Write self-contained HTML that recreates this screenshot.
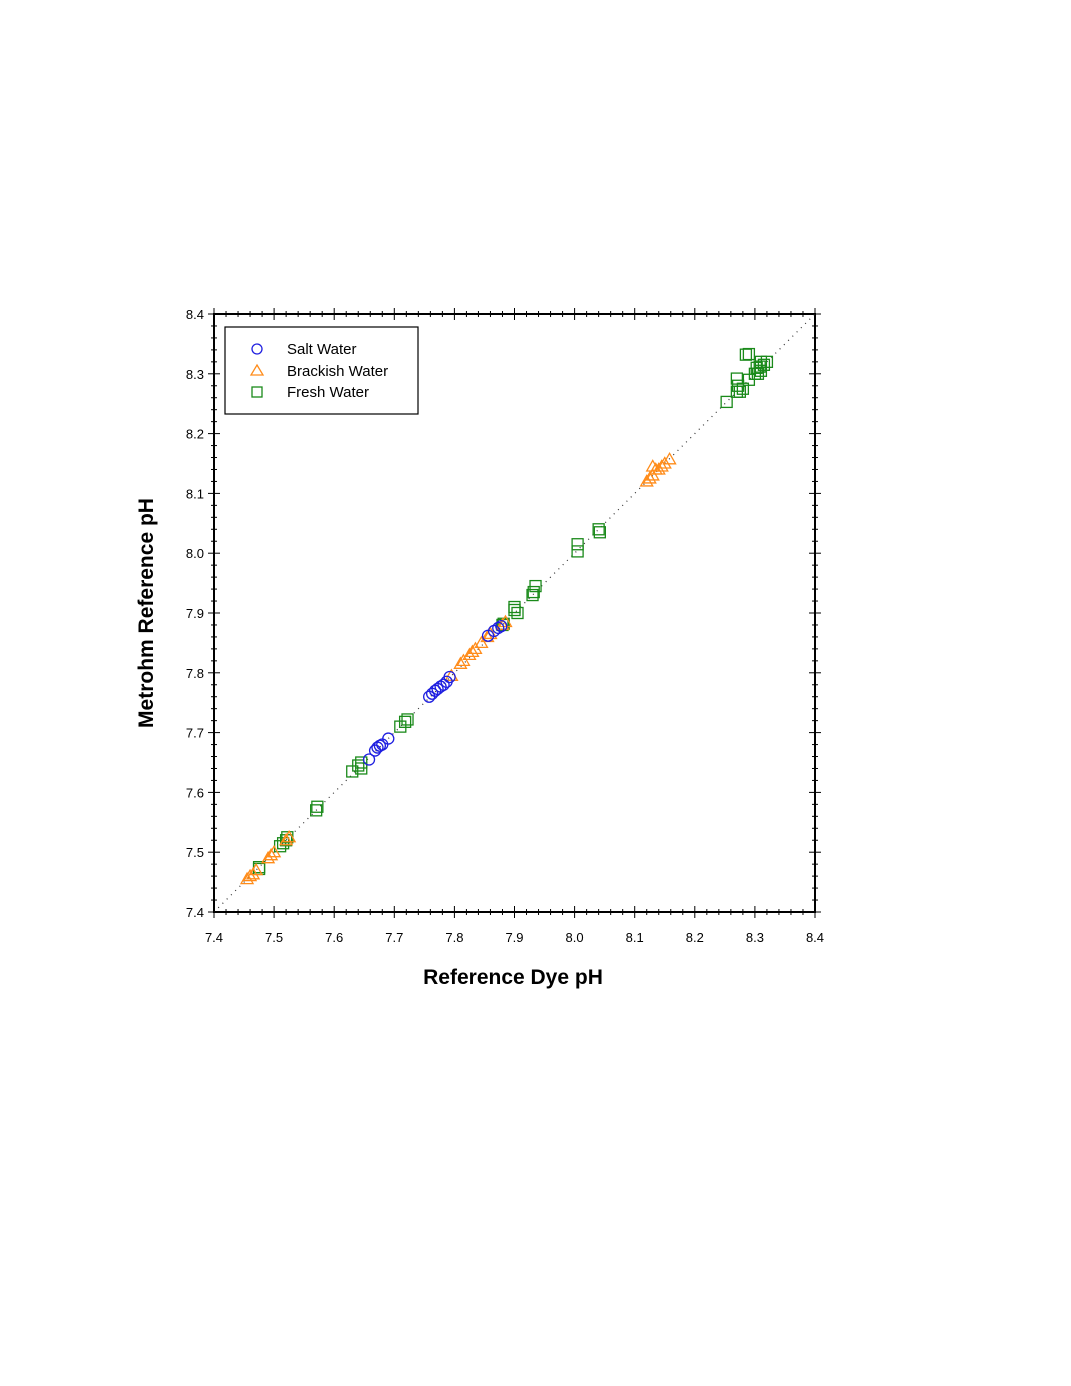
<!DOCTYPE html>
<html><head><meta charset="utf-8"><style>body{margin:0;background:#fff}svg{display:block;font-family:"Liberation Sans",sans-serif}</style></head>
<body>
<svg id="chart" width="1071" height="1386" viewBox="0 0 1071 1386" xmlns="http://www.w3.org/2000/svg">
<g id="axes"></g><g id="marks"></g>
<g>
<rect x="225" y="327" width="193" height="87" fill="#fff" stroke="#000" stroke-width="1.2"/>
<circle cx="257" cy="349" r="5" fill="none" stroke="#1f1fe0" stroke-width="1.3"/>
<text x="287" y="354" font-size="15">Salt Water</text>
<polygon points="257,365 263,375 251,375" fill="none" stroke="#ff8c1a" stroke-width="1.3"/>
<text x="287" y="376" font-size="15">Brackish Water</text>
<rect x="252" y="387" width="10" height="10" fill="none" stroke="#1a8a1a" stroke-width="1.3"/>
<text x="287" y="397" font-size="15">Fresh Water</text>
</g>
<text x="513" y="984" font-size="21" font-weight="bold" text-anchor="middle">Reference Dye pH</text>
<text transform="translate(153,613) rotate(-90)" font-size="21" font-weight="bold" text-anchor="middle">Metrohm Reference pH</text>
</svg>
<script>
const ticks=[7.4,7.5,7.6,7.7,7.8,7.9,8.0,8.1,8.2,8.3,8.4];
const tickLabels=["7.4","7.5","7.6","7.7","7.8","7.9","8.0","8.1","8.2","8.3","8.4"];
const saltX=[7.658,7.668,7.672,7.676,7.68,7.69,7.758,7.763,7.768,7.772,7.777,7.782,7.787,7.792,7.856,7.866,7.873,7.878];
const saltY=[7.655,7.67,7.675,7.678,7.68,7.69,7.76,7.765,7.77,7.773,7.777,7.78,7.785,7.793,7.862,7.87,7.875,7.878];
const brackX=[7.455,7.46,7.465,7.47,7.49,7.495,7.5,7.52,7.525,7.795,7.81,7.815,7.825,7.83,7.835,7.845,7.855,7.86,7.88,7.885,8.12,8.125,8.13,8.135,8.13,8.14,8.145,8.15,8.158];
const brackY=[7.455,7.46,7.463,7.47,7.49,7.495,7.5,7.52,7.525,7.795,7.815,7.82,7.83,7.835,7.84,7.85,7.86,7.865,7.88,7.885,8.12,8.125,8.13,8.14,8.145,8.14,8.145,8.15,8.157];
const freshX=[7.475,7.475,7.51,7.515,7.52,7.522,7.57,7.572,7.63,7.64,7.645,7.645,7.71,7.718,7.722,7.88,7.882,7.9,7.905,7.9,7.93,7.932,7.935,8.005,8.005,8.04,8.042,8.253,8.27,8.275,8.272,8.27,8.28,8.285,8.29,8.29,8.3,8.305,8.303,8.31,8.315,8.32,8.31,8.308];
const freshY=[7.475,7.472,7.51,7.515,7.52,7.525,7.57,7.576,7.635,7.645,7.64,7.65,7.71,7.718,7.722,7.88,7.882,7.905,7.9,7.91,7.93,7.935,7.945,8.015,8.003,8.04,8.035,8.253,8.27,8.27,8.28,8.292,8.275,8.332,8.333,8.29,8.3,8.3,8.31,8.32,8.315,8.32,8.305,8.312];
const X0=214,X1=815,Y0=912,Y1=314;
const sx=v=>X0+(v-7.4)/1.0*(X1-X0);
const sy=v=>Y0-(v-7.4)/1.0*(Y0-Y1);
const NS="http://www.w3.org/2000/svg";
function mk(p,t,a){const e=document.createElementNS(NS,t);for(const k in a)e.setAttribute(k,a[k]);p.appendChild(e);return e;}
const ax=document.getElementById('axes');
const frame=mk(ax,'rect',{x:X0,y:Y1,width:X1-X0,height:Y0-Y1,fill:'none',stroke:'#000','stroke-width':2});


const diag=mk(ax,'line',{x1:sx(7.4),y1:sy(7.4),x2:sx(8.4),y2:sy(8.4),stroke:'#333','stroke-width':1.2,'stroke-dasharray':'1 5'});


for(let i=0;i<=50;i++){const v=7.4+i*0.02;const maj=i%5===0;const L=maj?6:3;
const x=sx(v),y=sy(v);
mk(ax,'line',{x1:x,y1:Y0-L,x2:x,y2:Y0+L,stroke:'#000','stroke-width':1});
mk(ax,'line',{x1:x,y1:Y1-L,x2:x,y2:Y1+L,stroke:'#000','stroke-width':1});
mk(ax,'line',{x1:X0-L,y1:y,x2:X0+L,y2:y,stroke:'#000','stroke-width':1});
mk(ax,'line',{x1:X1-L,y1:y,x2:X1+L,y2:y,stroke:'#000','stroke-width':1});}
ticks.forEach((v,i)=>{
const tx=mk(ax,'text',{x:sx(v),y:Y0+30,'font-size':13,'text-anchor':'middle'});tx.textContent=tickLabels[i];


const ty=mk(ax,'text',{x:X0-10,y:sy(v)+5,'font-size':13,'text-anchor':'end'});ty.textContent=tickLabels[i];


});
const mg=document.getElementById('marks');
freshX.forEach((v,i)=>{const x=sx(v),y=sy(freshY[i]);
const e=mk(mg,'rect',{x:x-5.5,y:y-5.5,width:11,height:11,fill:'none',stroke:'#1a8a1a','stroke-width':1.3});

});
brackX.forEach((v,i)=>{const x=sx(v),y=sy(brackY[i]);
const e=mk(mg,'polygon',{points:`${x},${y-6} ${x+6},${y+4.5} ${x-6},${y+4.5}`,fill:'none',stroke:'#ff8c1a','stroke-width':1.3});

});
saltX.forEach((v,i)=>{const x=sx(v),y=sy(saltY[i]);
const e=mk(mg,'circle',{cx:x,cy:y,r:5.5,fill:'none',stroke:'#1f1fe0','stroke-width':1.3});

});
</script>
</body></html>
